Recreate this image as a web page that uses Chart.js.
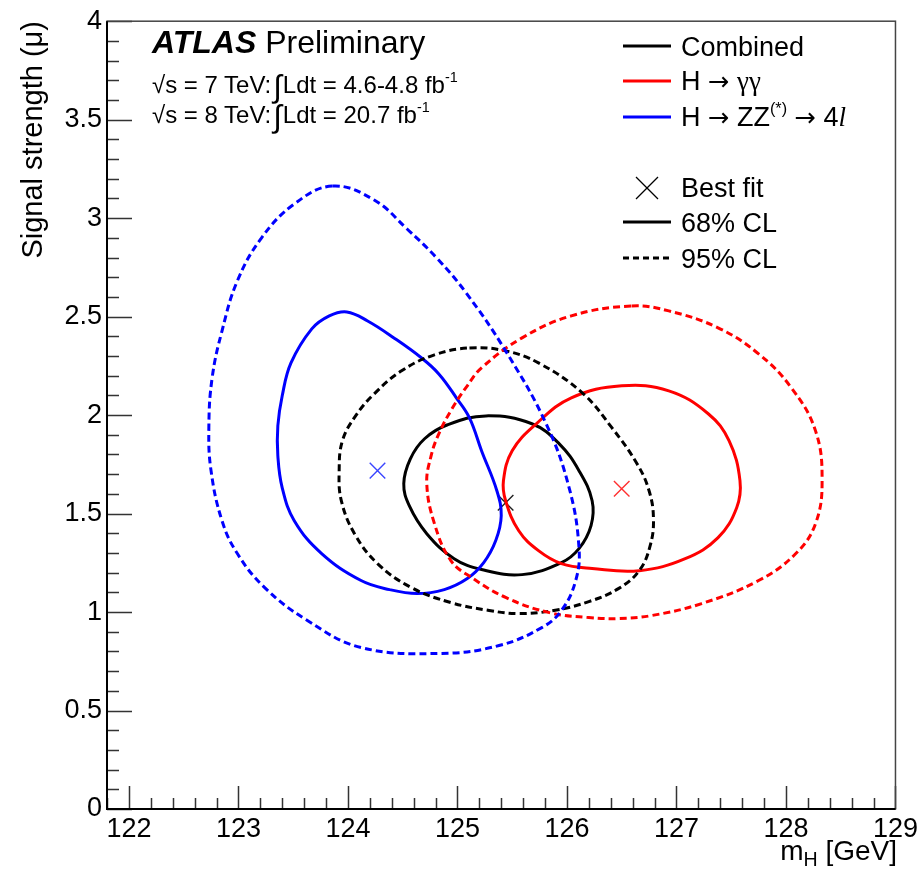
<!DOCTYPE html>
<html>
<head>
<meta charset="utf-8">
<script src="https://cdn.jsdelivr.net/npm/chart.js@4.4.0/dist/chart.umd.min.js"></script>
<style>
  body { margin: 0; background: #fff; }
  #wrap { position: relative; width: 922px; height: 872px; font-family: "Liberation Sans", Arial, sans-serif; color: #000; }
  #wrap canvas, #wrap svg { position: absolute; left: 0; top: 0; }
  .t { position: absolute; white-space: nowrap; line-height: 1; }
  .t sup { font-size: 0.6em; vertical-align: 0.75em; line-height: 0; }
  .t sub { font-size: 0.7em; vertical-align: -0.3em; line-height: 0; }
  .serif { font-family: "Liberation Serif", "DejaVu Serif", serif; }
  .arr { font-family: "DejaVu Sans", sans-serif; font-size: 0.95em; }
  .int { display: inline-block; font-size: 1.3em; transform: translateY(0.12em); margin: 0 1px 0 2px; }
</style>
</head>
<body>
<div id="wrap">
  <canvas id="chart" width="922" height="872"></canvas>
  <svg width="922" height="872">
    <line x1="623" y1="46" x2="671" y2="46" stroke="#000" stroke-width="3"/>
    <line x1="623" y1="81" x2="671" y2="81" stroke="#f00" stroke-width="3"/>
    <line x1="623" y1="117" x2="671" y2="117" stroke="#00f" stroke-width="3"/>
    <line x1="636" y1="177" x2="658" y2="199" stroke="#000" stroke-width="1.3"/>
    <line x1="658" y1="177" x2="636" y2="199" stroke="#000" stroke-width="1.3"/>
    <line x1="623" y1="222" x2="671" y2="222" stroke="#000" stroke-width="3"/>
    <line x1="623" y1="258" x2="671" y2="258" stroke="#000" stroke-width="3" stroke-dasharray="6 4"/>
  </svg>
  <div class="t" style="left:152px; top:26px; font-size:32px;"><b><i>ATLAS</i></b> Preliminary</div>
  <div class="t" style="left:152px; top:67px; font-size:24px;">√s = 7 TeV:<span class="int">∫</span>Ldt = 4.6-4.8 fb<sup>-1</sup></div>
  <div class="t" style="left:152px; top:97px; font-size:24px;">√s = 8 TeV:<span class="int">∫</span>Ldt = 20.7 fb<sup>-1</sup></div>

  <div class="t" style="left:681px; top:34px; font-size:27px;">Combined</div>
  <div class="t" style="left:681px; top:68px; font-size:27px;">H <span class="arr">→</span> <span class="serif">γγ</span></div>
  <div class="t" style="left:681px; top:104px; font-size:27px;">H <span class="arr">→</span> ZZ<sup>(*)</sup> <span class="arr">→</span> 4<i class="serif">l</i></div>
  <div class="t" style="left:681px; top:175px; font-size:27px;">Best fit</div>
  <div class="t" style="left:681px; top:210px; font-size:27px;">68% CL</div>
  <div class="t" style="left:681px; top:246px; font-size:27px;">95% CL</div>

  <div class="t" style="left:18px; top:21px; font-size:29px; transform-origin:0 0; transform:rotate(-90deg) translateX(-100%);">Signal strength (μ)</div>
  <div class="t" style="right:25px; top:837px; font-size:28px;">m<sub>H</sub> [GeV]</div>
</div>
<script>
// axis ticks
const xTicks = [122, 123, 124, 125, 126, 127, 128, 129];
const yTicks = [0, 0.5, 1, 1.5, 2, 2.5, 3, 3.5, 4];

// contours, [mH, mu] points
const zz95 = [[123.86,3.163],[124.24,3.092],[124.54,2.945],[124.81,2.798],[125.08,2.620],[125.44,2.326],
  [125.81,1.956],[126.02,1.631],[126.11,1.327],[126.08,1.160],[125.95,1.008],[125.77,0.921],[125.38,0.830],
  [124.85,0.790],[124.12,0.820],[123.63,0.957],[123.24,1.124],[122.99,1.297],[122.85,1.464],[122.75,1.718],
  [122.73,1.936],[122.76,2.189],[122.85,2.427],[122.99,2.681],[123.21,2.899],[123.51,3.072]];
const zz68 = [[123.99,2.524],[124.18,2.478],[124.42,2.392],[124.67,2.291],[124.83,2.209],[124.99,2.088],
  [125.11,1.986],[125.22,1.819],[125.36,1.616],[125.40,1.489],[125.35,1.363],[125.24,1.251],[125.09,1.170],
  [124.88,1.114],[124.63,1.094],[124.38,1.114],[124.12,1.160],[123.76,1.297],[123.51,1.464],[123.40,1.631],
  [123.36,1.794],[123.36,1.946],[123.40,2.098],[123.48,2.265],[123.67,2.438],[123.83,2.504]];
const comb95 = [[125.11,2.341],[125.44,2.326],[125.74,2.265],[126.14,2.113],[126.41,1.936],[126.64,1.753],
  [126.75,1.616],[126.79,1.474],[126.76,1.337],[126.66,1.210],[126.47,1.119],[126.20,1.053],[125.88,1.008],
  [125.56,0.992],[125.29,1.008],[124.94,1.048],[124.58,1.124],[124.27,1.246],[124.06,1.398],[123.94,1.565],
  [123.92,1.718],[123.95,1.870],[124.07,1.996],[124.24,2.108],[124.49,2.225],[124.79,2.306]];
const comb68 = [[125.26,1.996],[125.68,1.956],[125.93,1.854],[126.11,1.718],[126.23,1.565],[126.22,1.439],
  [126.11,1.322],[125.95,1.251],[125.59,1.190],[125.22,1.216],[124.97,1.271],[124.72,1.398],[124.56,1.540],
  [124.51,1.652],[124.57,1.778],[124.70,1.880],[124.91,1.951]];
const gam95 = [[126.59,2.554],[126.93,2.529],[127.38,2.443],[127.75,2.311],[128.05,2.138],[128.27,1.920],
  [128.33,1.667],[128.27,1.449],[128.09,1.297],[127.75,1.160],[127.23,1.043],[126.77,0.982],[126.47,0.967],
  [126.20,0.972],[125.84,0.997],[125.44,1.074],[125.13,1.175],[124.94,1.261],[124.79,1.449],[124.72,1.652],
  [124.76,1.794],[124.83,1.905],[124.95,2.032],[125.09,2.149],[125.22,2.240],[125.59,2.392],[126.04,2.504]];
const gam68 = [[126.50,2.149],[126.93,2.123],[127.29,2.007],[127.48,1.870],[127.58,1.667],[127.55,1.530],
  [127.38,1.378],[127.08,1.271],[126.66,1.210],[126.23,1.221],[125.95,1.246],[125.74,1.312],[125.56,1.413],
  [125.44,1.565],[125.42,1.667],[125.50,1.819],[125.72,1.956],[126.04,2.088]];

// best fit points
const bestComb = [125.44, 1.555];
const bestGam = [126.50, 1.626];
const bestZZ = [124.27, 1.718];

// closed curve: one hidden point on each end so the spline wraps smoothly
function loop(pts) {
  const n = pts.length;
  return [pts[n - 1], ...pts, pts[0], pts[1]].map(p => ({ x: p[0], y: p[1] }));
}

function contour(pts, color, dashed) {
  const n = pts.length;
  return {
    data: loop(pts),
    showLine: true,
    borderColor: color,
    borderWidth: 3,
    borderDash: dashed ? [7, 4] : [],
    tension: 0.4,
    pointRadius: 0,
    fill: false,
    segment: {
      borderColor: c => (c.p0DataIndex === 0 || c.p0DataIndex === n + 1) ? 'rgba(0,0,0,0)' : undefined
    }
  };
}

function cross(p, color) {
  return {
    data: [{ x: p[0], y: p[1] }],
    pointStyle: 'crossRot',
    pointRadius: 11,
    pointBorderWidth: 1.4,
    pointBorderColor: color,
    showLine: false
  };
}

// ROOT-like frame with inward ticks
const frameTicks = {
  id: 'frameTicks',
  afterDraw(chart) {
    const { ctx, chartArea: a, scales: { x, y } } = chart;
    ctx.save();
    ctx.strokeStyle = '#333';
    ctx.lineWidth = 1.5;
    ctx.beginPath();
    for (let i = 0; i <= 36; i++) {
      const v = 121.8 + i * 0.2;
      const major = Math.abs(v - Math.round(v)) < 0.01;
      const px = Math.round(x.getPixelForValue(v)) + 0.5;
      ctx.moveTo(px, a.bottom);
      ctx.lineTo(px, a.bottom - (major ? 23 : 11));
    }
    for (let i = 0; i <= 40; i++) {
      const v = i * 0.1;
      const major = i % 5 === 0;
      const py = Math.round(y.getPixelForValue(v)) + 0.5;
      ctx.moveTo(a.left, py);
      ctx.lineTo(a.left + (major ? 25 : 12), py);
    }
    ctx.stroke();
    ctx.strokeStyle = '#444';
    ctx.lineWidth = 1.5;
    ctx.strokeRect(a.left, a.top, a.right - a.left, a.bottom - a.top);
    ctx.strokeStyle = '#000';
    ctx.lineWidth = 2;
    ctx.beginPath();
    ctx.moveTo(a.left, a.top);
    ctx.lineTo(a.left, a.bottom);
    ctx.lineTo(a.right, a.bottom);
    ctx.stroke();
    ctx.restore();
  }
};

Chart.defaults.font.family = '"Liberation Sans", Arial, sans-serif';

new Chart(document.getElementById('chart'), {
  type: 'scatter',
  data: {
    datasets: [
      contour(zz95, '#0000ff', true),
      contour(gam95, '#ff0000', true),
      contour(comb95, '#000000', true),
      contour(zz68, '#0000ff', false),
      contour(gam68, '#ff0000', false),
      contour(comb68, '#000000', false),
      cross(bestZZ, '#3b46ff'),
      cross(bestGam, '#ff3030'),
      cross(bestComb, '#222222')
    ]
  },
  options: {
    responsive: false,
    animation: false,
    events: [],
    layout: { padding: { top: 20, right: 25, left: 0, bottom: 0 } },
    plugins: { legend: { display: false }, tooltip: { enabled: false } },
    scales: {
      x: {
        type: 'linear', min: 121.8, max: 129,
        afterBuildTicks: s => { s.ticks = xTicks.map(v => ({ value: v })); },
        afterFit: s => { s.height = 63; },
        grid: { display: false, drawTicks: false },
        border: { display: false },
        ticks: { padding: 4, color: '#000', font: { size: 27 }, maxRotation: 0, autoSkip: false, callback: v => String(v) }
      },
      y: {
        type: 'linear', min: 0, max: 4,
        afterBuildTicks: s => { s.ticks = yTicks.map(v => ({ value: v })); },
        afterFit: s => { s.width = 107; },
        grid: { display: false, drawTicks: false },
        border: { display: false },
        ticks: { padding: 5, color: '#000', font: { size: 27 }, autoSkip: false, callback: v => String(v) }
      }
    }
  },
  plugins: [frameTicks]
});
</script>
</body>
</html>
